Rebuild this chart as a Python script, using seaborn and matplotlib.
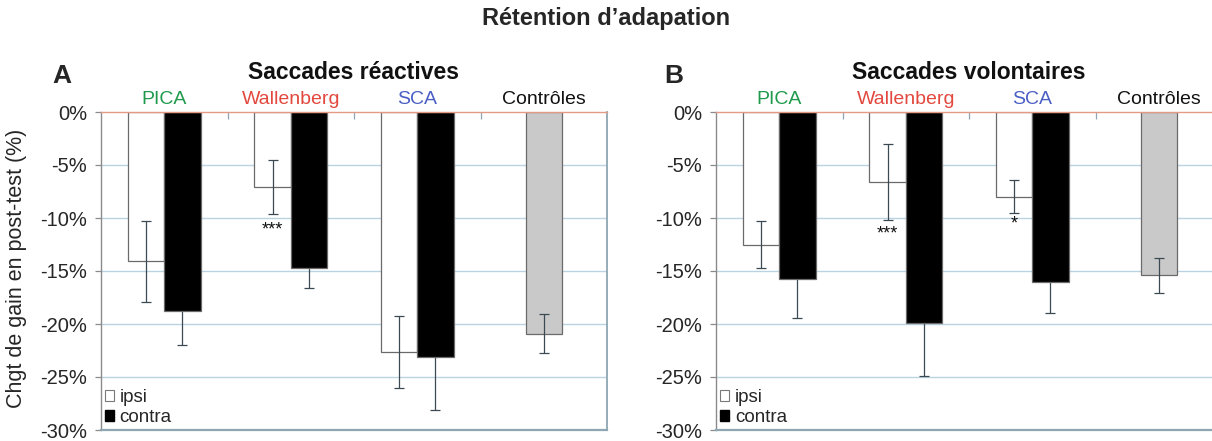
import matplotlib
matplotlib.use("Agg")
import matplotlib.pyplot as plt
from matplotlib.patches import Patch
from matplotlib.ticker import FixedLocator, FuncFormatter
import numpy as np
import pandas as pd
import seaborn as sns

# ---- data (percent change of saccade gain in post-test) ----
groupes = ["PICA", "Wallenberg", "SCA", "Contrôles"]
patients = ["PICA", "Wallenberg", "SCA"]
couleurs_groupes = ["#1f9a4c", "#e2483d", "#4a5fc4", "#111111"]

# A: reactive saccades
react_ipsi = [-14.1, -7.1, -22.6]
react_ipsi_err = [3.85, 2.55, 3.4]
react_contra = [-18.8, -14.7, -23.1]
react_contra_err = [3.2, 1.9, 5.0]
react_ctrl = -20.9
react_ctrl_err = 1.8

# B: voluntary saccades
volon_ipsi = [-12.5, -6.6, -8.0]
volon_ipsi_err = [2.25, 3.6, 1.55]
volon_contra = [-15.8, -19.9, -16.0]
volon_contra_err = [3.6, 5.0, 3.0]
volon_ctrl = -15.4
volon_ctrl_err = 1.65

# significance marks: (group, y position, text)
react_sig = [("Wallenberg", -11.1, "***")]
volon_sig = [("Wallenberg", -11.5, "***"), ("SCA", -10.6, "*")]

y_ticks = [0, -5, -10, -15, -20, -25, -30]

FONT = "Liberation Sans"
sns.set_theme(style="white")
plt.rcParams["font.family"] = [FONT, "DejaVu Sans"]

W, H = 1212, 441
fig = plt.figure(figsize=(W / 100, H / 100), dpi=100)

ax_w = 506 / W
ax_b = (H - 430) / H
ax_h = 318 / H
axA = fig.add_axes([101 / W, ax_b, ax_w, ax_h])
axB = fig.add_axes([716 / W, ax_b, ax_w, ax_h])

ERR_COL = "#3b4a52"
GRID_COL = "#b9d3e3"
FRAME_COL = "#8ea7b2"


def panel(ax, ipsi, ipsi_err, contra, contra_err, ctrl, ctrl_err, sig, title):
    df = pd.DataFrame({
        "groupe": patients * 2,
        "côté": ["ipsi"] * 3 + ["contra"] * 3,
        "val": ipsi + contra,
    })
    ctrl_df = pd.DataFrame({"groupe": ["Contrôles"], "val": [ctrl]})

    ax.set_axisbelow(True)
    for v in y_ticks[1:-1]:
        ax.axhline(v, color=GRID_COL, lw=1.0, zorder=0)

    sns.barplot(data=df, x="groupe", y="val", hue="côté", order=groupes,
                hue_order=["ipsi", "contra"], palette=["white", "black"],
                width=0.575, errorbar=None, saturation=1, legend=False,
                edgecolor="#6a6a6a", linewidth=0.9, ax=ax, zorder=2)
    sns.barplot(data=ctrl_df, x="groupe", y="val", order=groupes,
                color="#c9c9c9", width=0.2875, errorbar=None, saturation=1,
                edgecolor="#6a6a6a", linewidth=0.9, ax=ax, zorder=2)

    # error bars centred on the drawn bars
    cont = ax.containers
    pos = {}
    for side, c in zip(["ipsi", "contra"], cont[:2]):
        for g, p in zip(patients, c.patches):
            pos[(g, side)] = p.get_x() + p.get_width() / 2
    pc = cont[2].patches[0]
    pos[("Contrôles", "ctrl")] = pc.get_x() + pc.get_width() / 2

    ekw = dict(fmt="none", ecolor=ERR_COL, elinewidth=0.9, capsize=3.5, capthick=0.9)
    ax.errorbar([pos[(g, "ipsi")] for g in patients], ipsi, yerr=ipsi_err, zorder=3, **ekw)
    # contra whiskers sit behind the black bars, so only the lower half shows
    ax.errorbar([pos[(g, "contra")] for g in patients], contra, yerr=contra_err, zorder=1.5, **ekw)
    ax.errorbar([pos[("Contrôles", "ctrl")]], [ctrl], yerr=[ctrl_err], zorder=3, **ekw)

    for g, yv, txt in sig:
        ax.text(pos[(g, "ipsi")], yv, txt, ha="center", va="center",
                fontsize=13, color="#111111", zorder=4)

    # axes
    ax.set_xlim(-0.5, 3.5)
    ax.set_ylim(-30, 0)
    ax.set_xlabel("")
    ax.set_ylabel("")
    ax.yaxis.set_major_locator(FixedLocator(y_ticks))
    ax.yaxis.set_major_formatter(FuncFormatter(lambda v, _: f"{int(round(v))}%"))
    ax.tick_params(axis="y", which="major", direction="out", length=4, width=0.9,
                   color="#8a8a8a", labelsize=14.5, pad=6, left=True)

    ax.xaxis.tick_top()
    ax.set_xticks(range(len(groupes)))
    ax.set_xticklabels(groupes)
    for lab, col in zip(ax.get_xticklabels(), couleurs_groupes):
        lab.set_color(col)
    ax.tick_params(axis="x", which="major", length=0, labelsize=14, pad=3, top=True)
    ax.set_xticks([0.5, 1.5, 2.5], minor=True)
    ax.tick_params(axis="x", which="minor", direction="in", length=5, width=0.9,
                   color=FRAME_COL, top=True, bottom=False)

    for s in ["left", "right", "bottom", "top"]:
        ax.spines[s].set_visible(True)
    ax.spines["top"].set_color("#e59a86")
    ax.spines["top"].set_linewidth(1.0)
    ax.spines["left"].set_color("#8a8a8a")
    ax.spines["left"].set_linewidth(1.0)
    ax.spines["right"].set_color(FRAME_COL)
    ax.spines["right"].set_linewidth(1.3)
    ax.spines["bottom"].set_color(FRAME_COL)
    ax.spines["bottom"].set_linewidth(1.6)

    ax.set_title(title, fontsize=16.5, fontweight="bold", pad=24, color="#111111")

    handles = [Patch(facecolor="white", edgecolor="#7a7a7a", linewidth=0.8, label="ipsi"),
               Patch(facecolor="black", edgecolor="black", label="contra")]
    ax.legend(handles=handles, loc="lower left", frameon=False, fontsize=13.5,
              handlelength=0.5, handleheight=0.5, handletextpad=0.3,
              labelspacing=0.15, borderaxespad=0.1, borderpad=0.1)
    return ax


panel(axA, react_ipsi, react_ipsi_err, react_contra, react_contra_err,
      react_ctrl, react_ctrl_err, react_sig, "Saccades réactives")
panel(axB, volon_ipsi, volon_ipsi_err, volon_contra, volon_contra_err,
      volon_ctrl, volon_ctrl_err, volon_sig, "Saccades volontaires")

fig.text(62 / W, 1 - 76 / H, "A", fontsize=19, fontweight="bold", ha="center", va="center")
fig.text(674 / W, 1 - 76 / H, "B", fontsize=19, fontweight="bold", ha="center", va="center")
fig.text(606 / W, 1 - 18 / H, "Rétention d’adapation", fontsize=17, fontweight="bold",
         ha="center", va="center")
fig.text(17 / W, 1 - 268 / H, "Chgt de gain en post-test (%)", fontsize=15.5,
         rotation=90, ha="center", va="center")

fig.savefig("out.png", dpi=100)
